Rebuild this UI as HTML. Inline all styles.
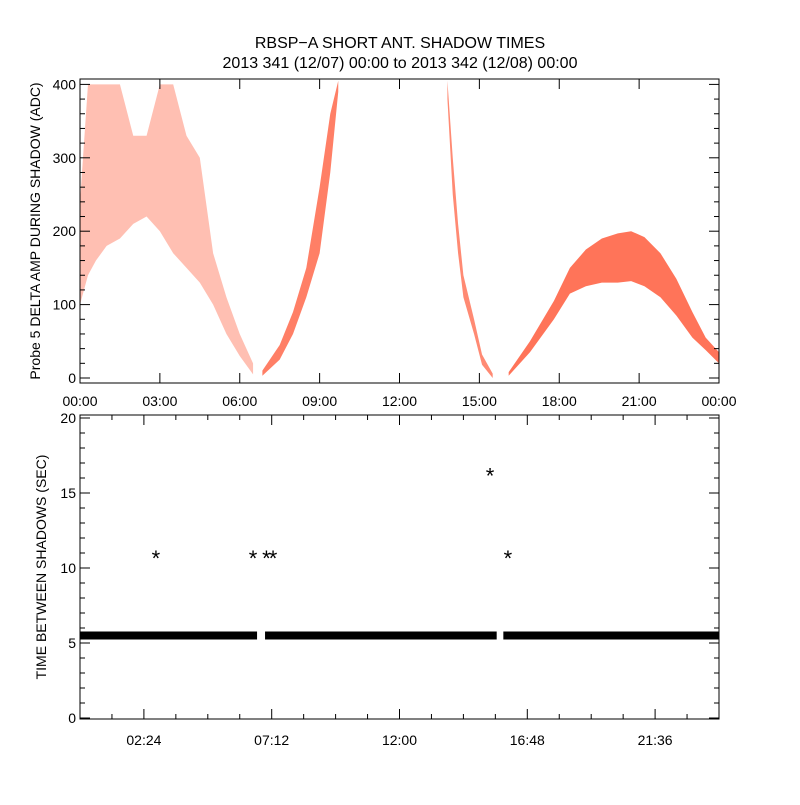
<!DOCTYPE html>
<html><head><meta charset="utf-8"><style>
body{margin:0;background:#fff;}
svg text{font-family:"Liberation Sans",sans-serif;fill:#000;}
</style></head><body>
<svg id="c" width="800" height="800" xmlns="http://www.w3.org/2000/svg">
<rect width="800" height="800" fill="#fff"/>
<text x="400" y="48" text-anchor="middle" font-size="16">RBSP−A SHORT ANT. SHADOW TIMES</text>
<text x="400" y="68" text-anchor="middle" font-size="16">2013 341 (12/07) 00:00 to 2013 342 (12/08) 00:00</text>
<g id="topPanel"></g><g id="botPanel"></g>
</svg>
<script>
// ---- top panel data (hours, ADC envelopes) ----
const seg1T=[0.0,0.3,0.6,1.0,1.5,2.0,2.5,3.0,3.5,4.0,4.5,5.0,5.5,6.0,6.5];
const seg1Lo=[100,140,160,180,190,210,220,200,170,150,130,100,60,30,5];
const seg1Hi=[240,400,400,400,400,330,330,400,400,330,300,170,110,60,20];
const seg2T=[6.85,7.5,8.0,8.5,9.0,9.4,9.7];
const seg2Lo=[3,25,60,110,170,280,390];
const seg2Hi=[10,45,90,150,260,360,405];
const seg3T=[13.8,14.0,14.2,14.4,14.8,15.1,15.5];
const seg3Lo=[380,250,170,110,60,18,0];
const seg3Hi=[405,300,210,140,80,32,6];
const seg4T=[16.1,16.9,17.8,18.4,19.0,19.6,20.2,20.7,21.2,21.8,22.4,23.0,23.5,24.0];
const seg4Lo=[3,35,80,115,125,130,130,132,125,110,85,55,38,20];
const seg4Hi=[8,50,105,150,175,190,197,200,192,170,135,90,55,35];
const topYTicks=[0,100,200,300,400];
const topXLabels=["00:00","03:00","06:00","09:00","12:00","15:00","18:00","21:00","00:00"];
// ---- bottom panel data ----
const bandStart=[0,6.95,15.9];
const bandEnd=[6.65,15.65,24];
const bandVal=5.5;
const outT=[2.85,6.5,7.0,7.25,15.4,16.07];
const outV=[11,11,11,11,16.5,11];
const botYTicks=[0,5,10,15,20];
const botXLabels=["02:24","07:12","12:00","16:48","21:36"];

const NS="http://www.w3.org/2000/svg";
const L=80,R=719;
const xs=h=>L+(R-L)*h/24;
const yT=v=>378-0.734*v;
const yB=v=>718-15*v;
function mk(p,tag,a){const e=document.createElementNS(NS,tag);for(const k in a)e.setAttribute(k,a[k]);p.appendChild(e);return e;}
const topG=document.getElementById('topPanel'),botG=document.getElementById('botPanel');

function band(T,Lo,Hi,op,name){
  let pts=[];
  for(let i=0;i<T.length;i++)pts.push(xs(T[i])+','+yT(Math.min(Hi[i],405)));
  for(let i=T.length-1;i>=0;i--)pts.push(xs(T[i])+','+yT(Lo[i]));
  const e=mk(topG,'polygon',{points:pts.join(' '),fill:'#ff2a00','fill-opacity':op});
  
  
}
band(seg1T,seg1Lo,seg1Hi,0.3,'pass-1-points');
band(seg2T,seg2Lo,seg2Hi,0.6,'pass-2-points');
band(seg3T,seg3Lo,seg3Hi,0.55,'pass-3-points');
band(seg4T,seg4Lo,seg4Hi,0.65,'pass-4-points');

// top axes
let f=mk(topG,'rect',{x:L,y:79,width:R-L,height:304,fill:'none',stroke:'#000','stroke-width':1});


for(let v=0;v<=400;v+=20){const y=yT(v);const len=v%100==0?10:5;
  mk(topG,'line',{x1:L,x2:L+len,y1:y,y2:y,stroke:'#000'});mk(topG,'line',{x1:R,x2:R-len,y1:y,y2:y,stroke:'#000'});}
topYTicks.forEach(v=>{const t=mk(topG,'text',{x:76,y:yT(v)+5,'text-anchor':'end','font-size':14});t.textContent=v;
  
  });
topXLabels.forEach((s,i)=>{const x=xs(i*3);
  mk(topG,'line',{x1:x,x2:x,y1:383,y2:373,stroke:'#000'});mk(topG,'line',{x1:x,x2:x,y1:79,y2:89,stroke:'#000'});
  const t=mk(topG,'text',{x:x,y:406,'text-anchor':'middle','font-size':14});t.textContent=s;
  
  });
let yl=mk(topG,'text',{transform:'translate(40,231) rotate(-90)','text-anchor':'middle','font-size':14});
yl.textContent='Probe 5 DELTA AMP DURING SHADOW (ADC)';



// bottom
for(let i=0;i<bandStart.length;i++){
  const r=mk(botG,'rect',{x:xs(bandStart[i]),y:yB(bandVal)-4,width:xs(bandEnd[i])-xs(bandStart[i]),height:8,fill:'#000'});
  
  
}
outT.forEach((t,i)=>{const e=mk(botG,'text',{x:xs(t),y:yB(outV[i])+13,'text-anchor':'middle','font-size':22});e.textContent='*';
  
  });
f=mk(botG,'rect',{x:L,y:415,width:R-L,height:304,fill:'none',stroke:'#000','stroke-width':1});


for(let v=0;v<=20;v+=1){const y=yB(v);const len=v%5==0?10:5;
  mk(botG,'line',{x1:L,x2:L+len,y1:y,y2:y,stroke:'#000'});mk(botG,'line',{x1:R,x2:R-len,y1:y,y2:y,stroke:'#000'});}
botYTicks.forEach(v=>{const t=mk(botG,'text',{x:76,y:yB(v)+5,'text-anchor':'end','font-size':14});t.textContent=v;
  
  });
for(let k=1;k<20;k++){const x=xs(k*1.2);const len=k%4==2?10:5;
  mk(botG,'line',{x1:x,x2:x,y1:719,y2:719-len,stroke:'#000'});mk(botG,'line',{x1:x,x2:x,y1:415,y2:415+len,stroke:'#000'});}
botXLabels.forEach((s,i)=>{const t=mk(botG,'text',{x:xs(2.4+4.8*i),y:745,'text-anchor':'middle','font-size':14});t.textContent=s;
  
  });
yl=mk(botG,'text',{transform:'translate(46,567) rotate(-90)','text-anchor':'middle','font-size':14});
yl.textContent='TIME BETWEEN SHADOWS (SEC)';


</script>
</body></html>
